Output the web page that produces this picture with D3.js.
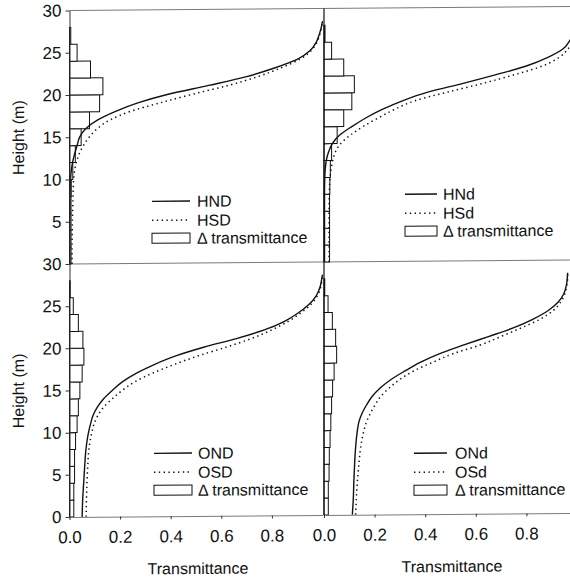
<!DOCTYPE html>
<html>
<head>
<meta charset="utf-8">
<script src="https://cdn.jsdelivr.net/npm/d3@7"></script>
<style>
  html, body { margin: 0; padding: 0; background: #fff; }
  svg { display: block; }
  text { font-family: "Liberation Sans", Arial, sans-serif; fill: #111; }
</style>
</head>
<body>
<svg id="chart" width="570" height="580"></svg>
<script>
// Heights (m) at which each transmittance profile is sampled
const heightGrid = [0, 2, 4, 6, 8, 10, 11, 12, 13, 14, 15, 16, 17, 18, 19, 20, 21, 22, 23, 24, 25, 26, 27, 28, 28.5];

// Transmittance profiles
const HND = [0.001, 0.001, 0.001, 0.0015, 0.002, 0.004, 0.007, 0.012, 0.02, 0.03, 0.04, 0.064, 0.11, 0.18, 0.27, 0.39, 0.55, 0.70, 0.81, 0.90, 0.95, 0.975, 0.988, 0.997, 1.0];
const HSD = [0.01, 0.01, 0.011, 0.012, 0.014, 0.016, 0.02, 0.027, 0.038, 0.055, 0.078, 0.11, 0.16, 0.24, 0.36, 0.49, 0.63, 0.745, 0.835, 0.91, 0.955, 0.978, 0.99, 0.997, 1.0];
const HNd = [0.002, 0.002, 0.002, 0.002, 0.002, 0.003, 0.005, 0.009, 0.018, 0.033, 0.062, 0.11, 0.165, 0.23, 0.31, 0.41, 0.55, 0.68, 0.80, 0.885, 0.945, 0.972, 0.99, 0.998, 1.0];
const HSd = [0.02, 0.02, 0.02, 0.02, 0.021, 0.024, 0.028, 0.034, 0.045, 0.066, 0.105, 0.155, 0.215, 0.28, 0.36, 0.49, 0.63, 0.755, 0.865, 0.93, 0.965, 0.985, 0.995, 1.0, 1.0];
const OND = [0.05, 0.052, 0.056, 0.06, 0.065, 0.075, 0.083, 0.093, 0.11, 0.135, 0.17, 0.21, 0.265, 0.335, 0.42, 0.53, 0.66, 0.77, 0.85, 0.905, 0.947, 0.975, 0.99, 0.997, 1.0];
const OSD = [0.066, 0.067, 0.069, 0.072, 0.077, 0.088, 0.097, 0.112, 0.135, 0.17, 0.21, 0.26, 0.33, 0.415, 0.51, 0.62, 0.72, 0.80, 0.865, 0.915, 0.955, 0.98, 0.993, 0.998, 1.0];
const ONd = [0.112, 0.116, 0.118, 0.121, 0.125, 0.132, 0.138, 0.15, 0.168, 0.19, 0.222, 0.265, 0.32, 0.38, 0.455, 0.55, 0.65, 0.748, 0.825, 0.885, 0.925, 0.948, 0.958, 0.962, 0.963];
const OSd = [0.125, 0.128, 0.132, 0.138, 0.145, 0.158, 0.168, 0.183, 0.202, 0.224, 0.258, 0.30, 0.355, 0.43, 0.51, 0.617, 0.70, 0.78, 0.854, 0.905, 0.935, 0.952, 0.96, 0.963, 0.963];

// 2 m height classes and the transmittance difference in each
const binStarts = [0, 2, 4, 6, 8, 10, 12, 14, 16, 18, 20, 22, 24, 26];
const binWidth = 2;
const deltaH_D = [0.006, 0.006, 0.006, 0.006, 0.007, 0.013, 0.023, 0.046, 0.079, 0.119, 0.132, 0.083, 0.03, 0.005];
const deltaH_d = [0.022, 0.022, 0.022, 0.022, 0.023, 0.025, 0.03, 0.052, 0.078, 0.11, 0.12, 0.078, 0.03, 0.004];
const deltaO_D = [0.017, 0.017, 0.02, 0.02, 0.024, 0.03, 0.035, 0.041, 0.05, 0.057, 0.053, 0.035, 0.015, 0.003];
const deltaO_d = [0.017, 0.017, 0.02, 0.021, 0.024, 0.027, 0.03, 0.034, 0.04, 0.05, 0.046, 0.033, 0.016, 0.003];

const heightTicks = [0, 5, 10, 15, 20, 25, 30];
const transTicks = [0, 0.2, 0.4, 0.6, 0.8];
const xTitle = "Transmittance";
const yTitle = "Height (m)";
const deltaLabel = "\u0394 transmittance";

const svg = d3.select("#chart");
// the whole figure sits on a very slight slant
const root = svg.append("g").attr("transform", "matrix(1,-0.008,0,1,0,0.56)");

const xLeft = d3.scaleLinear().domain([0, 1]).range([69.5, 322.5]);
const xRight = d3.scaleLinear().domain([0, 1]).range([324, 577]);
const yTop = d3.scaleLinear().domain([0, 30]).range([264, 10.5]);
const yBottom = d3.scaleLinear().domain([0, 30]).range([517, 264]);

const panels = [
  { x: xLeft,  y: yTop,    solid: HND, dotted: HSD, delta: deltaH_D, names: ["HND", "HSD"], leg: { x1: 152, x2: 190, tx: 197, y: 202 } },
  { x: xRight, y: yTop,    solid: HNd, dotted: HSd, delta: deltaH_d, names: ["HNd", "HSd"], leg: { x1: 405, x2: 437, tx: 443, y: 197 } },
  { x: xLeft,  y: yBottom, solid: OND, dotted: OSD, delta: deltaO_D, names: ["OND", "OSD"], leg: { x1: 154, x2: 192, tx: 198, y: 454 } },
  { x: xRight, y: yBottom, solid: ONd, dotted: OSd, delta: deltaO_d, names: ["ONd", "OSd"], leg: { x1: 414, x2: 447, tx: 455, y: 456 } }
];

const frameColor = "#7a7a7a";

// horizontal frame lines: top border and panel divider
[yTop(30), yTop(0)].forEach(yy => {
  root.append("line")
    .attr("x1", xLeft(0)).attr("x2", xRight(1))
    .attr("y1", yy).attr("y2", yy)
    .attr("stroke", frameColor).attr("stroke-width", 1);
});

panels.forEach(p => {
  const g = root.append("g");

  // histogram of transmittance differences
  g.selectAll("rect.bar")
    .data(binStarts.map((b, i) => ({ b, v: p.delta[i] })))
    .join("rect")
    .attr("class", "bar")
    .attr("x", p.x(0))
    .attr("width", d => p.x(d.v) - p.x(0))
    .attr("y", d => p.y(d.b + binWidth))
    .attr("height", d => p.y(d.b) - p.y(d.b + binWidth))
    .attr("fill", "#fff")
    .attr("stroke", "#111")
    .attr("stroke-width", 1);

  const line = d3.line()
    .x(d => p.x(d[1]))
    .y(d => p.y(d[0]))
    .curve(d3.curveMonotoneY);

  g.append("path")
    .datum(heightGrid.map((h, i) => [h, p.dotted[i]]))
    .attr("d", line)
    .attr("fill", "none")
    .attr("stroke", "#111")
    .attr("stroke-width", 1.5)
    .attr("stroke-dasharray", "1.4 3.4");

  g.append("path")
    .datum(heightGrid.map((h, i) => [h, p.solid[i]]))
    .attr("d", line)
    .attr("fill", "none")
    .attr("stroke", "#111")
    .attr("stroke-width", 1.4);

  // legend: solid, dotted, histogram box
  const L = p.leg;
  const rows = [L.y, L.y + 19, L.y + 37];
  g.append("line").attr("x1", L.x1).attr("x2", L.x2).attr("y1", rows[0]).attr("y2", rows[0])
    .attr("stroke", "#111").attr("stroke-width", 1.4);
  g.append("line").attr("x1", L.x1).attr("x2", L.x2).attr("y1", rows[1]).attr("y2", rows[1])
    .attr("stroke", "#111").attr("stroke-width", 1.5).attr("stroke-dasharray", "1.4 3.4");
  g.append("rect").attr("x", L.x1).attr("y", rows[2] - 5).attr("width", L.x2 - L.x1).attr("height", 10)
    .attr("fill", "#fff").attr("stroke", "#111").attr("stroke-width", 1);
  [p.names[0], p.names[1], deltaLabel].forEach((t, i) => {
    g.append("text")
      .attr("x", L.tx).attr("y", rows[i])
      .attr("dy", "0.36em")
      .attr("font-size", 16)
      .text(t);
  });
});

// central vertical axis shared by the right-hand panels
root.append("line")
  .attr("x1", xRight(0)).attr("x2", xRight(0))
  .attr("y1", yTop(30)).attr("y2", yBottom(0))
  .attr("stroke", "#111").attr("stroke-width", 1.2);

function styleAxis(sel, domainColor) {
  sel.select(".domain").attr("stroke", domainColor).attr("stroke-width", 1);
  sel.selectAll(".tick line").attr("stroke", "#333");
  sel.selectAll(".tick text")
    .attr("font-family", "'Liberation Sans', Arial, sans-serif")
    .attr("font-size", 17)
    .attr("fill", "#111");
}

// left height axes
root.append("g")
  .attr("transform", `translate(${xLeft(0)},0)`)
  .call(d3.axisLeft(yTop).tickValues(heightTicks.filter(v => v > 0)).tickSize(4).tickSizeOuter(0).tickPadding(4))
  .call(s => styleAxis(s, "#333"));

root.append("g")
  .attr("transform", `translate(${xLeft(0)},0)`)
  .call(d3.axisLeft(yBottom).tickValues(heightTicks).tickSize(4).tickSizeOuter(0).tickPadding(4))
  .call(s => styleAxis(s, "#333"));

// bottom transmittance axes
[xLeft, xRight].forEach(xs => {
  root.append("g")
    .attr("transform", `translate(0,${yBottom(0)})`)
    .call(d3.axisBottom(xs).tickValues(transTicks).tickFormat(d3.format(".1f")).tickSize(3).tickSizeOuter(0).tickPadding(11))
    .call(s => styleAxis(s, frameColor));
});

// axis titles
[198, 452].forEach(cx => {
  root.append("text")
    .attr("x", cx).attr("y", 575)
    .attr("text-anchor", "middle")
    .attr("font-size", 16)
    .text(xTitle);
});

[yTop, yBottom].forEach(ys => {
  root.append("text")
    .attr("transform", `translate(24,${ys(15)}) rotate(-90)`)
    .attr("text-anchor", "middle")
    .attr("font-size", 16)
    .text(yTitle);
});
</script>
</body>
</html>
